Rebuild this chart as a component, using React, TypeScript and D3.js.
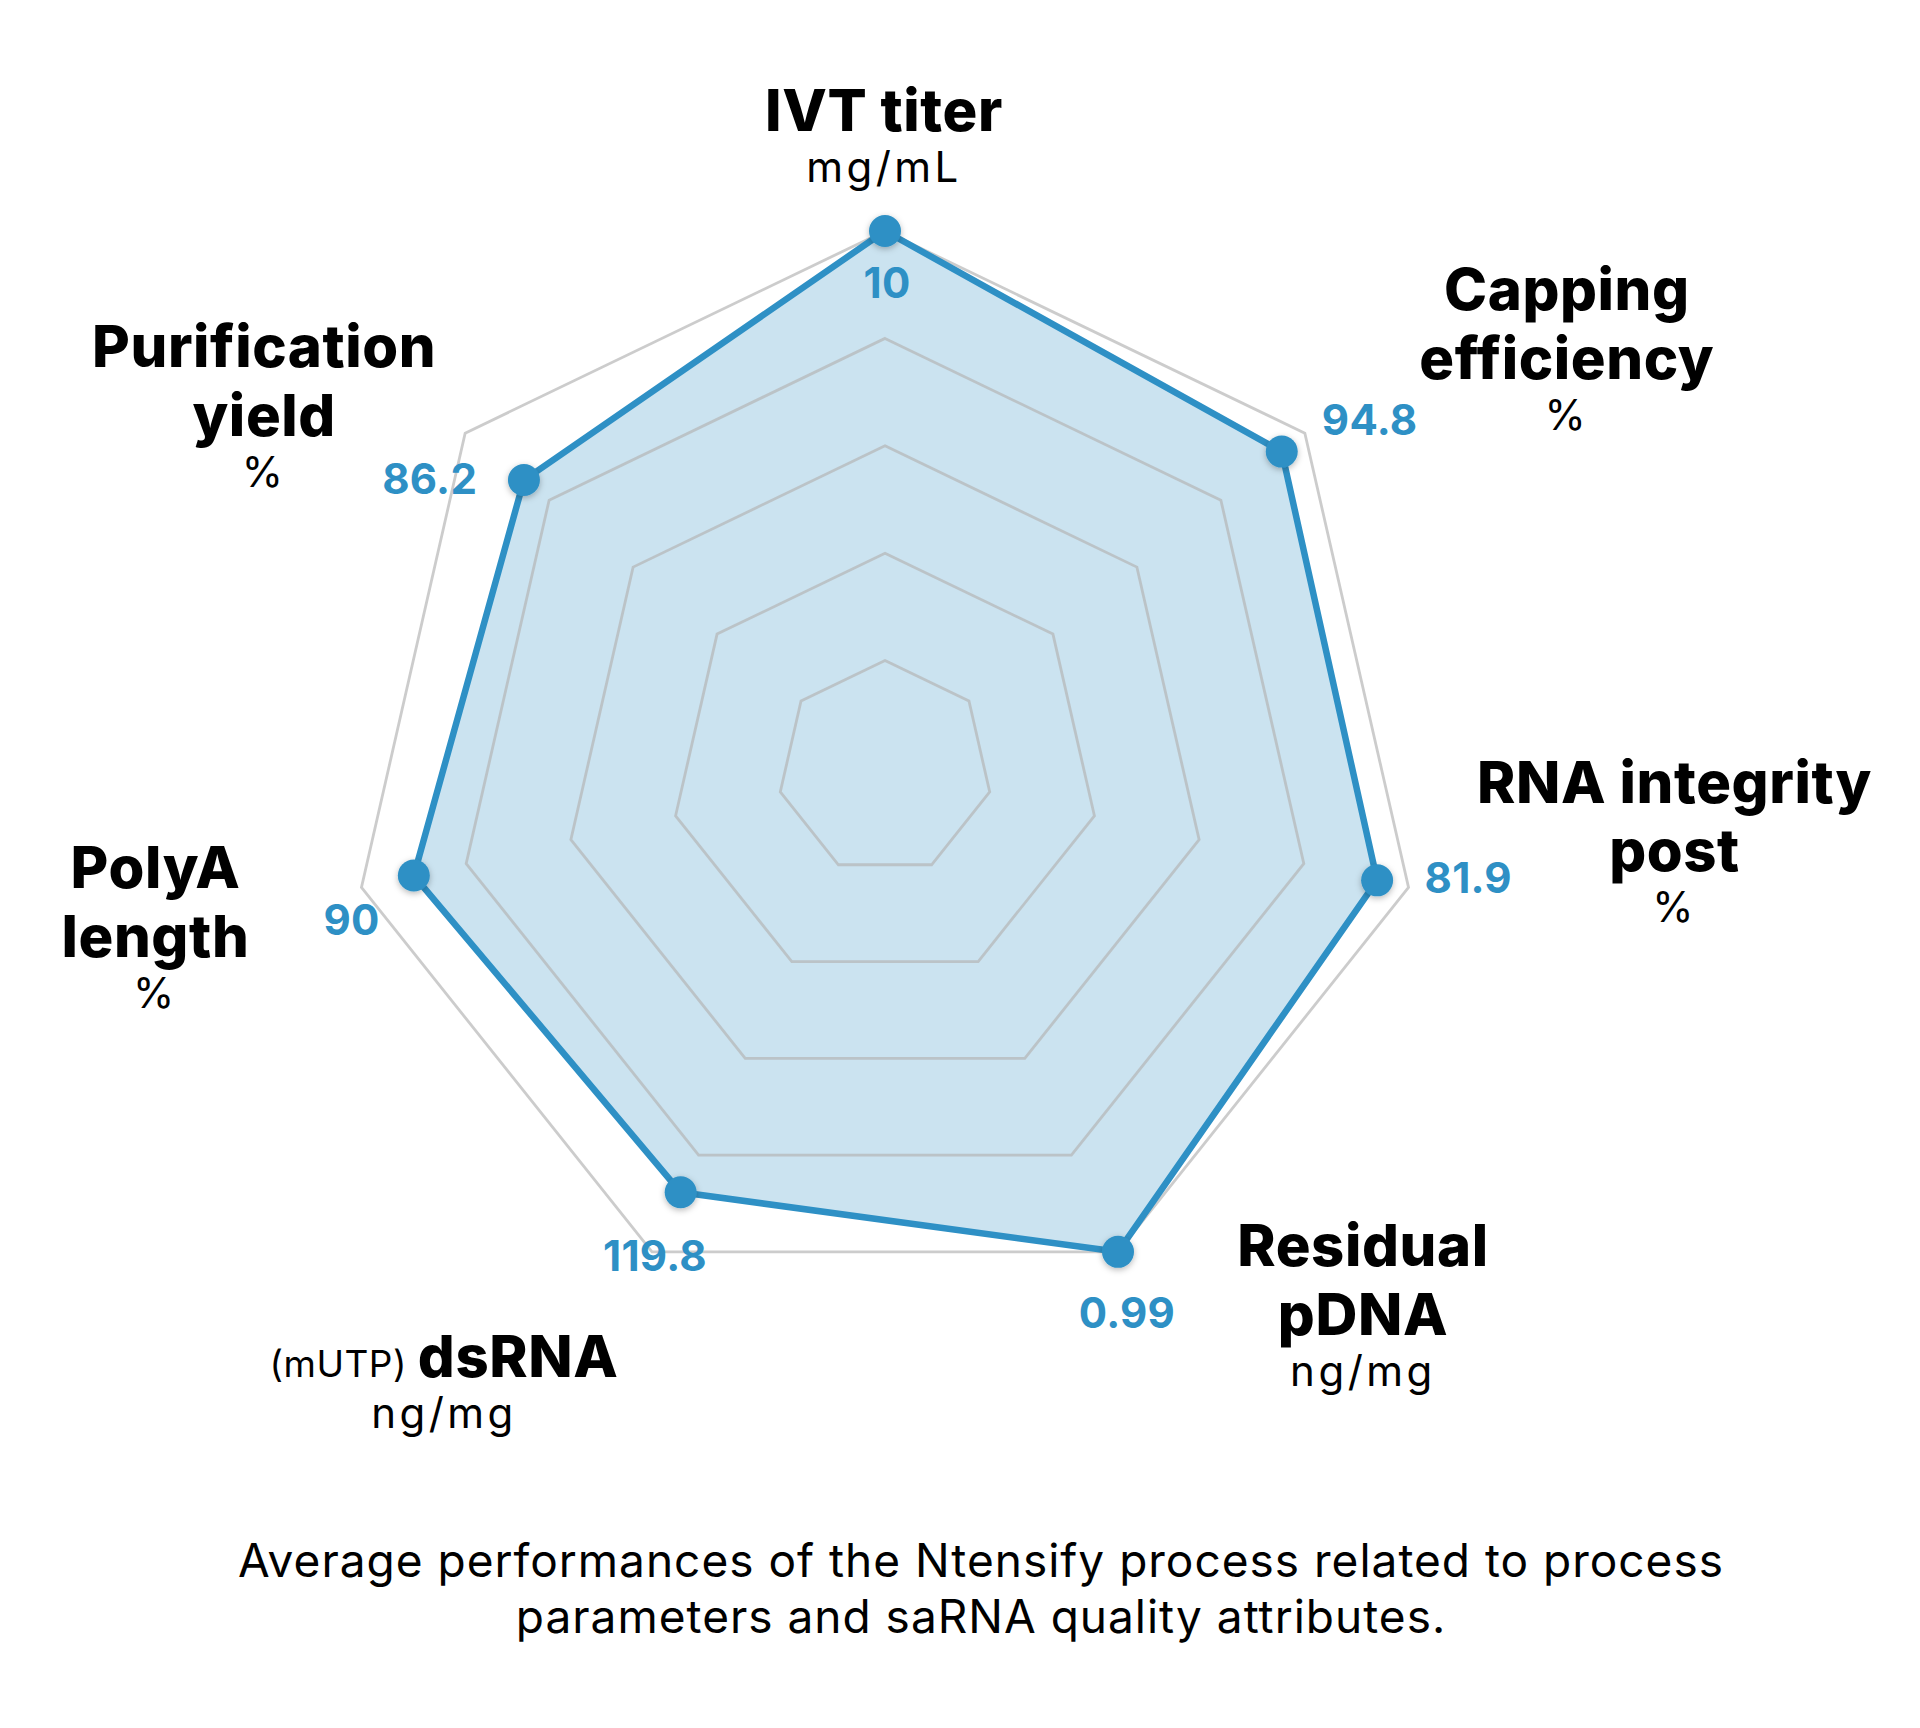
import React from 'react';
import * as d3 from 'd3';

// ------- Data -------
const titleLines = [
  ['IVT titer'],
  ['Capping', 'efficiency'],
  ['RNA integrity', 'post'],
  ['Residual', 'pDNA'],
  ['dsRNA'],
  ['PolyA', 'length'],
  ['Purification', 'yield'],
];
const units = ['mg/mL', '%', '%', 'ng/mg', 'ng/mg', '%', '%'];
const valueLabels = ['10', '94.8', '81.9', '0.99', '119.8', '90', '86.2'];
// position of each point along its spoke (0 = centre, 1 = outer ring)
const scores = [1.0, 0.945, 0.94, 1.0, 0.877, 0.9, 0.86];
const gridLevels = [0.2, 0.4, 0.6, 0.8, 1.0];
const caption = [
  'Average performances of the Ntensify process related to process',
  'parameters and saRNA quality attributes.',
];

// ------- Layout -------
const W = 1920;
const H = 1728;
const cx = 885;
const cy = 768;
const R = 537;
const blue = '#2e90c5';
const font = 'Inter, "Noto Sans", sans-serif';

// title anchor (centre, first baseline) relative to the outer vertex
const titleOffset = [[-1, -100], [262, -123], [266, -85], [245, 14], [-208, 125], [-206, 1], [-201, -66]];
// value label offset relative to the outer vertex
const valueOffset: [number, number, string][] = [
  [2, 67, 'middle'], [17, 2, 'start'], [16, 6, 'start'], [9, 76, 'middle'],
  [3, 19, 'middle'], [-10, 48, 'middle'], [12, 61, 'end'],
];

export default function App() {
  const n = titleLines.length;
  const angle = d3.scaleLinear().domain([0, n]).range([0, 2 * Math.PI]);
  const r = d3.scaleLinear().domain([0, 1]).range([0, R]);

  const ring = (lvl: number) =>
    d3.lineRadial<number>()
      .angle((_, i) => angle(i))
      .radius(() => r(lvl))
      .curve(d3.curveLinearClosed)(d3.range(n));

  const area = d3.lineRadial<number>()
    .angle((_, i) => angle(i))
    .radius((d) => r(d))
    .curve(d3.curveLinearClosed)(scores);

  const outer = d3.range(n).map((i) => d3.pointRadial(angle(i), R));

  return (
    <svg width={W} height={H} viewBox={`0 0 ${W} ${H}`}
      style={{ position: 'absolute', left: 0, top: 0, background: '#fff' }}>
      <defs>
        <filter id="shadow" x="-50%" y="-50%" width="200%" height="200%">
          <feDropShadow dx="0" dy="2" stdDeviation="3" floodColor="#000" floodOpacity="0.28" />
        </filter>
      </defs>
      <rect width={W} height={H} fill="#fff" />
      <g transform={`translate(${cx},${cy})`}>
        <path d={area!} fill={blue} fillOpacity={0.25} stroke="none" />
        {gridLevels.map((lvl) => (
          <path key={lvl} d={ring(lvl)!} fill="none" stroke="#b4b4b4" strokeOpacity={0.68} strokeWidth={2.8} />
        ))}
        <path d={area!} fill="none" stroke={blue} strokeWidth={6.5} strokeLinejoin="round" />
        {scores.map((s, i) => {
          const [x, y] = d3.pointRadial(angle(i), r(s));
          return <circle key={i} cx={x} cy={y} r={16} fill={blue} filter="url(#shadow)" />;
        })}
        {valueLabels.map((v, i) => {
          const [x, y] = outer[i];
          const [dx, dy, anchor] = valueOffset[i];
          return (
            <text key={i} x={x + dx} y={y + dy} textAnchor={anchor as any} fill={blue}
              fontFamily={font} fontWeight={700} fontSize={42} letterSpacing={0.3}>{v}</text>
          );
        })}
        {titleLines.map((lines, i) => {
          const [x0, y0] = outer[i];
          const x = x0 + titleOffset[i][0];
          const y = y0 + titleOffset[i][1];
          return (
            <g key={i}>
              {lines.map((t, j) => (
                <text key={j} x={x} y={y + j * 69} textAnchor="middle" fill="#000"
                  fontFamily={font} fontWeight={800} fontSize={58} letterSpacing={0.6}>
                  {i === 4 && <tspan fontWeight={400} fontSize={37} letterSpacing={0.5}>(mUTP) </tspan>}
                  {t}
                </text>
              ))}
              <text x={x} y={y + (lines.length - 1) * 69 + 51} textAnchor="middle" fill="#000"
                fontFamily={font} fontWeight={400} fontSize={42} letterSpacing={3.5}>{units[i]}</text>
            </g>
          );
        })}
      </g>
      {caption.map((t, i) => (
        <text key={i} x={981} y={1577 + i * 56} textAnchor="middle" fill="#000"
          fontFamily={font} fontWeight={400} fontSize={46} letterSpacing={1}>{t}</text>
      ))}
    </svg>
  );
}
